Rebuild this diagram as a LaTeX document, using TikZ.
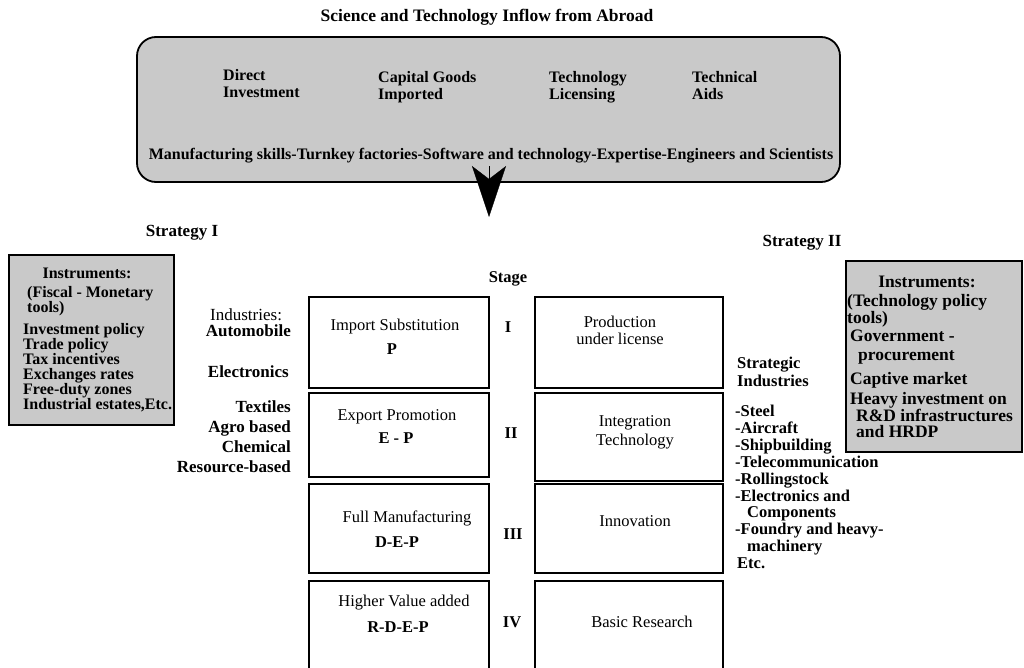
\documentclass[tikz,border=0pt]{standalone}
\usepackage{fontspec}
\setmainfont{Liberation Serif}
\usetikzlibrary{arrows.meta}
\begin{document}
\begin{tikzpicture}[x=1pt,y=-1pt,
  stippled/.style={fill=black!21, draw=black, line width=1.8pt, inner sep=0pt, outer sep=0pt},
  stagebox/.style={draw=black, line width=1.8pt, inner sep=0pt, outer sep=0pt},
  txt/.style={inner sep=0pt, font=\fontsize{16.5}{18}\selectfont},
  btxt/.style={inner sep=0pt, font=\fontsize{16.5}{18}\selectfont\bfseries},
  itxt/.style={inner sep=0pt, align=left, font=\fontsize{16}{17}\selectfont\bfseries},
  rtxt/.style={inner sep=0pt, align=left, font=\fontsize{17.5}{17}\selectfont\bfseries},
  bigarrow/.style={line width=0.4pt, -{Stealth[length=51pt, width=34pt, inset=13pt]}}
]
\useasboundingbox (0,0) rectangle (1024,667);

% title and top box
\node[inner sep=0pt, font=\fontsize{17.5}{19}\selectfont\bfseries] (title) at (487,17) {Science and Technology Inflow from Abroad};
\node[stippled, rounded corners=19pt, minimum width=703pt, minimum height=145pt] (topbox) at (488.5,109.5) {};
\node[itxt, anchor=west] (direct) at (223,84) {Direct\\Investment};
\node[itxt, anchor=west] (capital) at (378,87) {Capital Goods\\Imported};
\node[itxt, anchor=west] (licensing) at (549,87) {Technology\\Licensing};
\node[itxt, anchor=west] (aids) at (692,86) {Technical\\Aids};
\node[itxt] (skills) at (491,156) {Manufacturing skills-Turnkey factories-Software and technology-Expertise-Engineers and Scientists};

% arrow
\coordinate (arrowbase) at (489,166);
\coordinate (arrowtip) at (489,217);
\draw[bigarrow] (arrowbase) -- (arrowtip);

% strategies
\node[inner sep=0pt, font=\fontsize{17}{19}\selectfont\bfseries] (strat1) at (182,233) {Strategy I};
\node[inner sep=0pt, font=\fontsize{17}{19}\selectfont\bfseries] (strat2) at (802,243) {Strategy II};

% left instruments box
\node[stippled, minimum width=165pt, minimum height=170pt] (linst) at (91.5,340) {};
\node[itxt] (linsthead) at (87,273) {Instruments:};
\node[itxt, anchor=west, font=\fontsize{16}{15}\selectfont\bfseries] (linst1) at (27,301.5) {(Fiscal - Monetary\\tools)};
\node[itxt, anchor=west, font=\fontsize{16}{15}\selectfont\bfseries] (linst2) at (23,367.5) {Investment policy\\Trade policy\\Tax incentives\\Exchanges rates\\Free-duty zones\\Industrial estates,Etc.};

% right instruments box
\node[stippled, minimum width=176pt, minimum height=191pt] (rinst) at (934,356.5) {};
\node[rtxt] (rinsthead) at (927,282) {Instruments:};
\node[rtxt, anchor=west, font=\fontsize{17.5}{14}\selectfont\bfseries] (rinst1) at (847,310.5) {(Technology policy\\tools)};
\node[rtxt, anchor=west, font=\fontsize{17.5}{19}\selectfont\bfseries] (rinst2) at (850,347.5) {Government -\\\hspace*{8pt}procurement};
\node[rtxt, anchor=west] (rinst3) at (850,380) {Captive market};
\node[rtxt, anchor=west, font=\fontsize{17.5}{16}\selectfont\bfseries] (rinst4) at (850,415) {Heavy investment on\\\hspace*{6pt}R\&D infrastructures\\\hspace*{6pt}and HRDP};

% industries (left)
\node[txt, anchor=west, font=\fontsize{17}{19}\selectfont] (ind) at (210,315) {Industries:};
\node[btxt, anchor=east, font=\fontsize{17}{19}\selectfont\bfseries] (ind1) at (291,331) {Automobile};
\node[btxt, anchor=east, font=\fontsize{17}{19}\selectfont\bfseries] (ind2) at (289,372) {Electronics};
\node[btxt, anchor=east, align=right, font=\fontsize{17}{20}\selectfont\bfseries] (ind3) at (291,437) {Textiles\\Agro based\\Chemical\\Resource-based};

% strategic industries (right)
\node[btxt, anchor=west, align=left] (strind) at (737,371.5) {Strategic\\Industries};
\node[btxt, anchor=west, align=left, font=\fontsize{16.5}{16.9}\selectfont\bfseries] (strlist) at (735,487) {-Steel\\-Aircraft\\-Shipbuilding\\-Telecommunication\\-Rollingstock\\-Electronics and\\\hspace*{12pt}Components\\-Foundry and heavy-\\\hspace*{12pt}machinery\\\hspace*{2pt}Etc.};

% stage column
\node[btxt] (stage) at (508,279) {Stage};
\node[btxt] (s1) at (508,327) {I};
\node[btxt] (s2) at (511,433) {II};
\node[btxt] (s3) at (513,534) {III};
\node[btxt] (s4) at (512,622) {IV};

% left stage boxes
\node[stagebox, minimum width=180pt, minimum height=91pt] (L1) at (399,342.5) {};
\node[stagebox, minimum width=180pt, minimum height=84pt] (L2) at (399,435) {};
\node[stagebox, minimum width=180pt, minimum height=89pt] (L3) at (399,528.5) {};
\node[stagebox, minimum width=180pt, minimum height=99pt] (L4) at (399,630.5) {};
% right stage boxes
\node[stagebox, minimum width=188pt, minimum height=91pt] (R1) at (629,342.5) {};
\node[stagebox, minimum width=188pt, minimum height=88pt] (R2) at (629,437) {};
\node[stagebox, minimum width=188pt, minimum height=89pt] (R3) at (629,528.5) {};
\node[stagebox, minimum width=188pt, minimum height=99pt] (R4) at (629,630.5) {};

% left box texts
\node[txt] (l1a) at (395,327) {Import Substitution};
\node[btxt] (l1b) at (392,349) {P};
\node[txt] (l2a) at (397,417) {Export Promotion};
\node[btxt] (l2b) at (396,438) {E - P};
\node[txt] (l3a) at (407,518) {Full Manufacturing};
\node[btxt] (l3b) at (397,542) {D-E-P};
\node[txt] (l4a) at (404,603) {Higher Value added};
\node[btxt] (l4b) at (398,627) {R-D-E-P};

% right box texts
\node[txt, align=center, font=\fontsize{16.5}{17}\selectfont] (r1) at (620,330.5) {Production\\under license};
\node[txt, align=center, font=\fontsize{16.5}{19}\selectfont] (r2) at (635,432.5) {Integration\\Technology};
\node[txt] (r3) at (635,521) {Innovation};
\node[txt] (r4) at (642,622) {Basic Research};
\end{tikzpicture}
\end{document}
